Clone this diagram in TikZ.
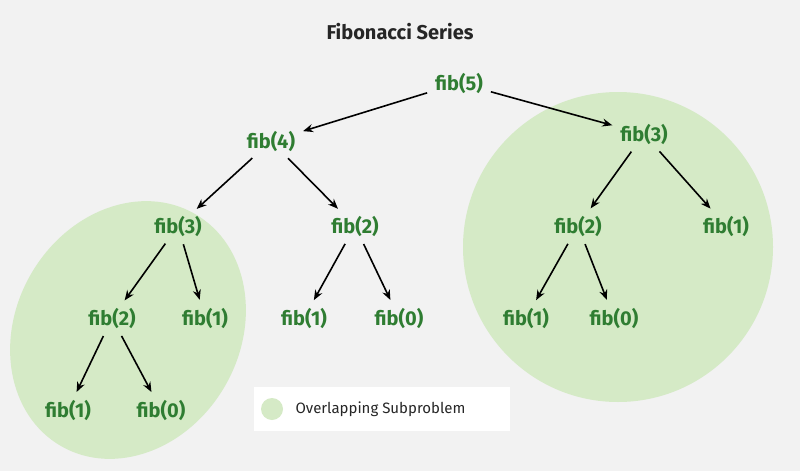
\documentclass[tikz,border=0pt]{standalone}
\usepackage{fontspec}
\setmainfont{Fira Sans}
\usetikzlibrary{arrows.meta}
\definecolor{bg}{HTML}{F2F2F2}
\definecolor{fg}{HTML}{2F7D32}
\definecolor{blob}{HTML}{D5EAC6}
\tikzset{
 fibnode/.style={text=fg,font=\fontsize{20}{20}\selectfont\bfseries,inner sep=4pt},
 arr/.style={-{Stealth[length=10pt,width=8pt]},line width=1.6pt,shorten <=4pt,shorten >=4pt}
}
\begin{document}
\begin{tikzpicture}[x=1pt,y=-1pt]
\fill[bg] (0,0) rectangle (800,471);
\useasboundingbox (0,0) rectangle (800,471);
\fill[blob,rotate around={-30:(128,330)}] (128,330) ellipse [x radius=112,y radius=134];
\fill[blob] (618,247) circle (155);
\node[font=\fontsize{20}{20}\selectfont\bfseries,text=black!85] (title) at (400,32) {Fibonacci Series};
\node[fibnode] (f5) at (459,83) {fib(5)};
\node[fibnode] (f4) at (271,141) {fib(4)};
\node[fibnode] (f3a) at (644,134) {fib(3)};
\node[fibnode] (f3b) at (178,226) {fib(3)};
\node[fibnode] (f2a) at (355,226) {fib(2)};
\node[fibnode] (f2b) at (578,226) {fib(2)};
\node[fibnode] (f1a) at (726,226) {fib(1)};
\node[fibnode] (f2c) at (112,318) {fib(2)};
\node[fibnode] (f1b) at (205,318) {fib(1)};
\node[fibnode] (f1c) at (304,318) {fib(1)};
\node[fibnode] (f0a) at (399,318) {fib(0)};
\node[fibnode] (f1d) at (526,318) {fib(1)};
\node[fibnode] (f0b) at (614,318) {fib(0)};
\node[fibnode] (f1e) at (68,410) {fib(1)};
\node[fibnode] (f0c) at (161,410) {fib(0)};
\foreach \a/\b in {f5/f4,f5/f3a,f4/f3b,f4/f2a,f3a/f2b,f3a/f1a,f3b/f2c,f3b/f1b,f2a/f1c,f2a/f0a,f2b/f1d,f2b/f0b,f2c/f1e,f2c/f0c}
  \draw[arr] (\a) -- (\b);
\fill[white] (254,387) rectangle (510,431);
\fill[blob] (272,409) circle (11);
\node[anchor=west,font=\fontsize{15}{15}\selectfont,text=black!85] (leg) at (292,409) {Overlapping Subproblem};
\end{tikzpicture}
\end{document}
